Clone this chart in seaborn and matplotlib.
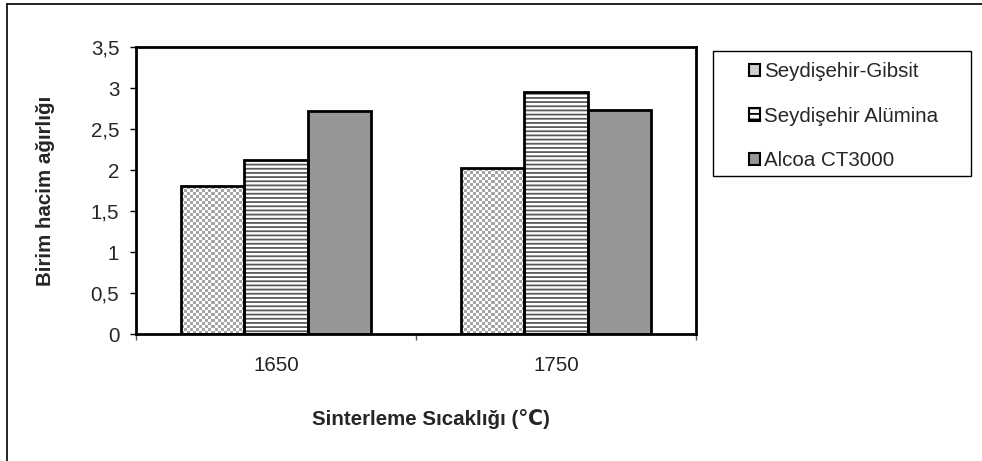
import numpy as np
import pandas as pd
import matplotlib
matplotlib.use("Agg")
import matplotlib.pyplot as plt
from matplotlib.patches import Rectangle
from matplotlib.lines import Line2D
import seaborn as sns

categories = ["1650", "1750"]
series = ["Seydişehir-Gibsit", "Seydişehir Alümina", "Alcoa CT3000"]
gibsit = [1.80, 2.02]
alumina = [2.12, 2.95]
alcoa = [2.72, 2.73]
yticks = [0, 0.5, 1, 1.5, 2, 2.5, 3, 3.5]
ytick_labels = ["0", "0,5", "1", "1,5", "2", "2,5", "3", "3,5"]
xlabel = "Sinterleme Sıcaklığı (\u2103)"
ylabel = "Birim hacim ağırlığı"

df = pd.DataFrame({
    "cat": categories * 3,
    "series": [series[0]] * 2 + [series[1]] * 2 + [series[2]] * 2,
    "value": gibsit + alumina + alcoa,
})

sns.set_style("white")
plt.rcParams["font.family"] = ["Liberation Sans", "DejaVu Sans"]
plt.rcParams["hatch.linewidth"] = 1.3
FS = 14.8

fig = plt.figure(figsize=(9.82, 4.61), dpi=100)
W, H = 982, 461
ax = fig.add_axes([136 / W, 1 - 334 / H, (696 - 136) / W, (334 - 47) / H])

sns.barplot(data=df, x="cat", y="value", hue="series", hue_order=series,
            order=categories, width=0.68, gap=0, dodge=True, legend=False,
            palette=["white", "white", "#969696"], edgecolor="black",
            linewidth=2.0, saturation=1, ax=ax)

ax.set_xlim(-0.5, 1.5)
ax.set_ylim(0, 3.5)
ax.set_yticks(yticks)
ax.set_yticklabels(ytick_labels, fontsize=FS)
ax.set_xticks([0, 1])
ax.set_xticklabels(categories, fontsize=FS)
ax.tick_params(axis="x", which="major", length=0, pad=16)
ax.set_xticks([-0.5, 0.5, 1.5], minor=True)
ax.tick_params(axis="x", which="minor", direction="out", length=4, width=1, color="#555555", bottom=True)
ax.tick_params(axis="y", direction="out", length=4, width=1, color="black", left=True, pad=8)
for s in ax.spines.values():
    s.set_visible(True)
    s.set_color("black")
    s.set_linewidth(2.0)

ax.set_xlabel(xlabel, fontsize=FS, fontweight="bold", labelpad=24)
ax.set_ylabel(ylabel, fontsize=FS, fontweight="bold", labelpad=26)
ax.xaxis.label.set_x((431 - 136) / (696 - 136))

bars = list(ax.patches)
n = len(categories)
gib_bars = bars[0:n]
alu_bars = bars[n:2 * n]

fig.canvas.draw()
# checkerboard texture for Gibsit bars
for b in gib_bars:
    x0, y0 = b.get_x(), b.get_y()
    w, h = b.get_width(), b.get_height()
    p0 = ax.transData.transform((x0, y0))
    p1 = ax.transData.transform((x0 + w, y0 + h))
    nx = max(1, int(round((p1[0] - p0[0]) / 3)))
    ny = max(1, int(round((p1[1] - p0[1]) / 3)))
    ii, jj = np.indices((ny, nx))
    img = np.where((ii + jj) % 2 == 0, 0.65, 1.0)
    im = ax.imshow(img, cmap="gray", vmin=0, vmax=1, extent=(x0, x0 + w, y0, y0 + h),
                   interpolation="nearest", aspect="auto", zorder=b.get_zorder() - 0.1)
    im.set_clip_path(b)
    b.set_facecolor("none")
    b.set_zorder(b.get_zorder() + 0.2)

# horizontal lines for Alümina bars
for b in alu_bars:
    hp = Rectangle((b.get_x(), b.get_y()), b.get_width(), b.get_height(),
                   facecolor="white", edgecolor="#5a5a5a", linewidth=0, hatch="----",
                   zorder=b.get_zorder() - 0.1)
    ax.add_patch(hp)
    b.set_facecolor("none")
    b.set_zorder(b.get_zorder() + 0.2)

ax.set_xlim(-0.5, 1.5)
ax.set_ylim(0, 3.5)

# legend frame
fig.patches.append(Rectangle((713 / W, 1 - 176 / H), (971 - 713) / W, (176 - 51) / H,
                             transform=fig.transFigure, facecolor="white",
                             edgecolor="black", linewidth=1.0, zorder=0))

handles = [
    Rectangle((0, 0), 1, 1, facecolor="#cfcfcf", edgecolor="black", linewidth=1.5),
    Rectangle((0, 0), 1, 1, facecolor="white", edgecolor="black", linewidth=1.5, hatch="---"),
    Rectangle((0, 0), 1, 1, facecolor="#969696", edgecolor="black", linewidth=1.5),
]
leg = fig.legend(handles, series, loc="upper left", bbox_to_anchor=(749 / W, 1 - 62 / H),
                 frameon=False, fontsize=FS, handlelength=0.55, handleheight=0.55,
                 handletextpad=0.2, labelspacing=1.25, borderpad=0, borderaxespad=0)

# outer border (left and top)
fig.add_artist(Line2D([7 / W, 7 / W], [0, 1 - 4 / H], transform=fig.transFigure, color="black", linewidth=1.2))
fig.add_artist(Line2D([7 / W, 1], [1 - 4 / H, 1 - 4 / H], transform=fig.transFigure, color="black", linewidth=1.2))

fig.savefig("out.png", dpi=100)
